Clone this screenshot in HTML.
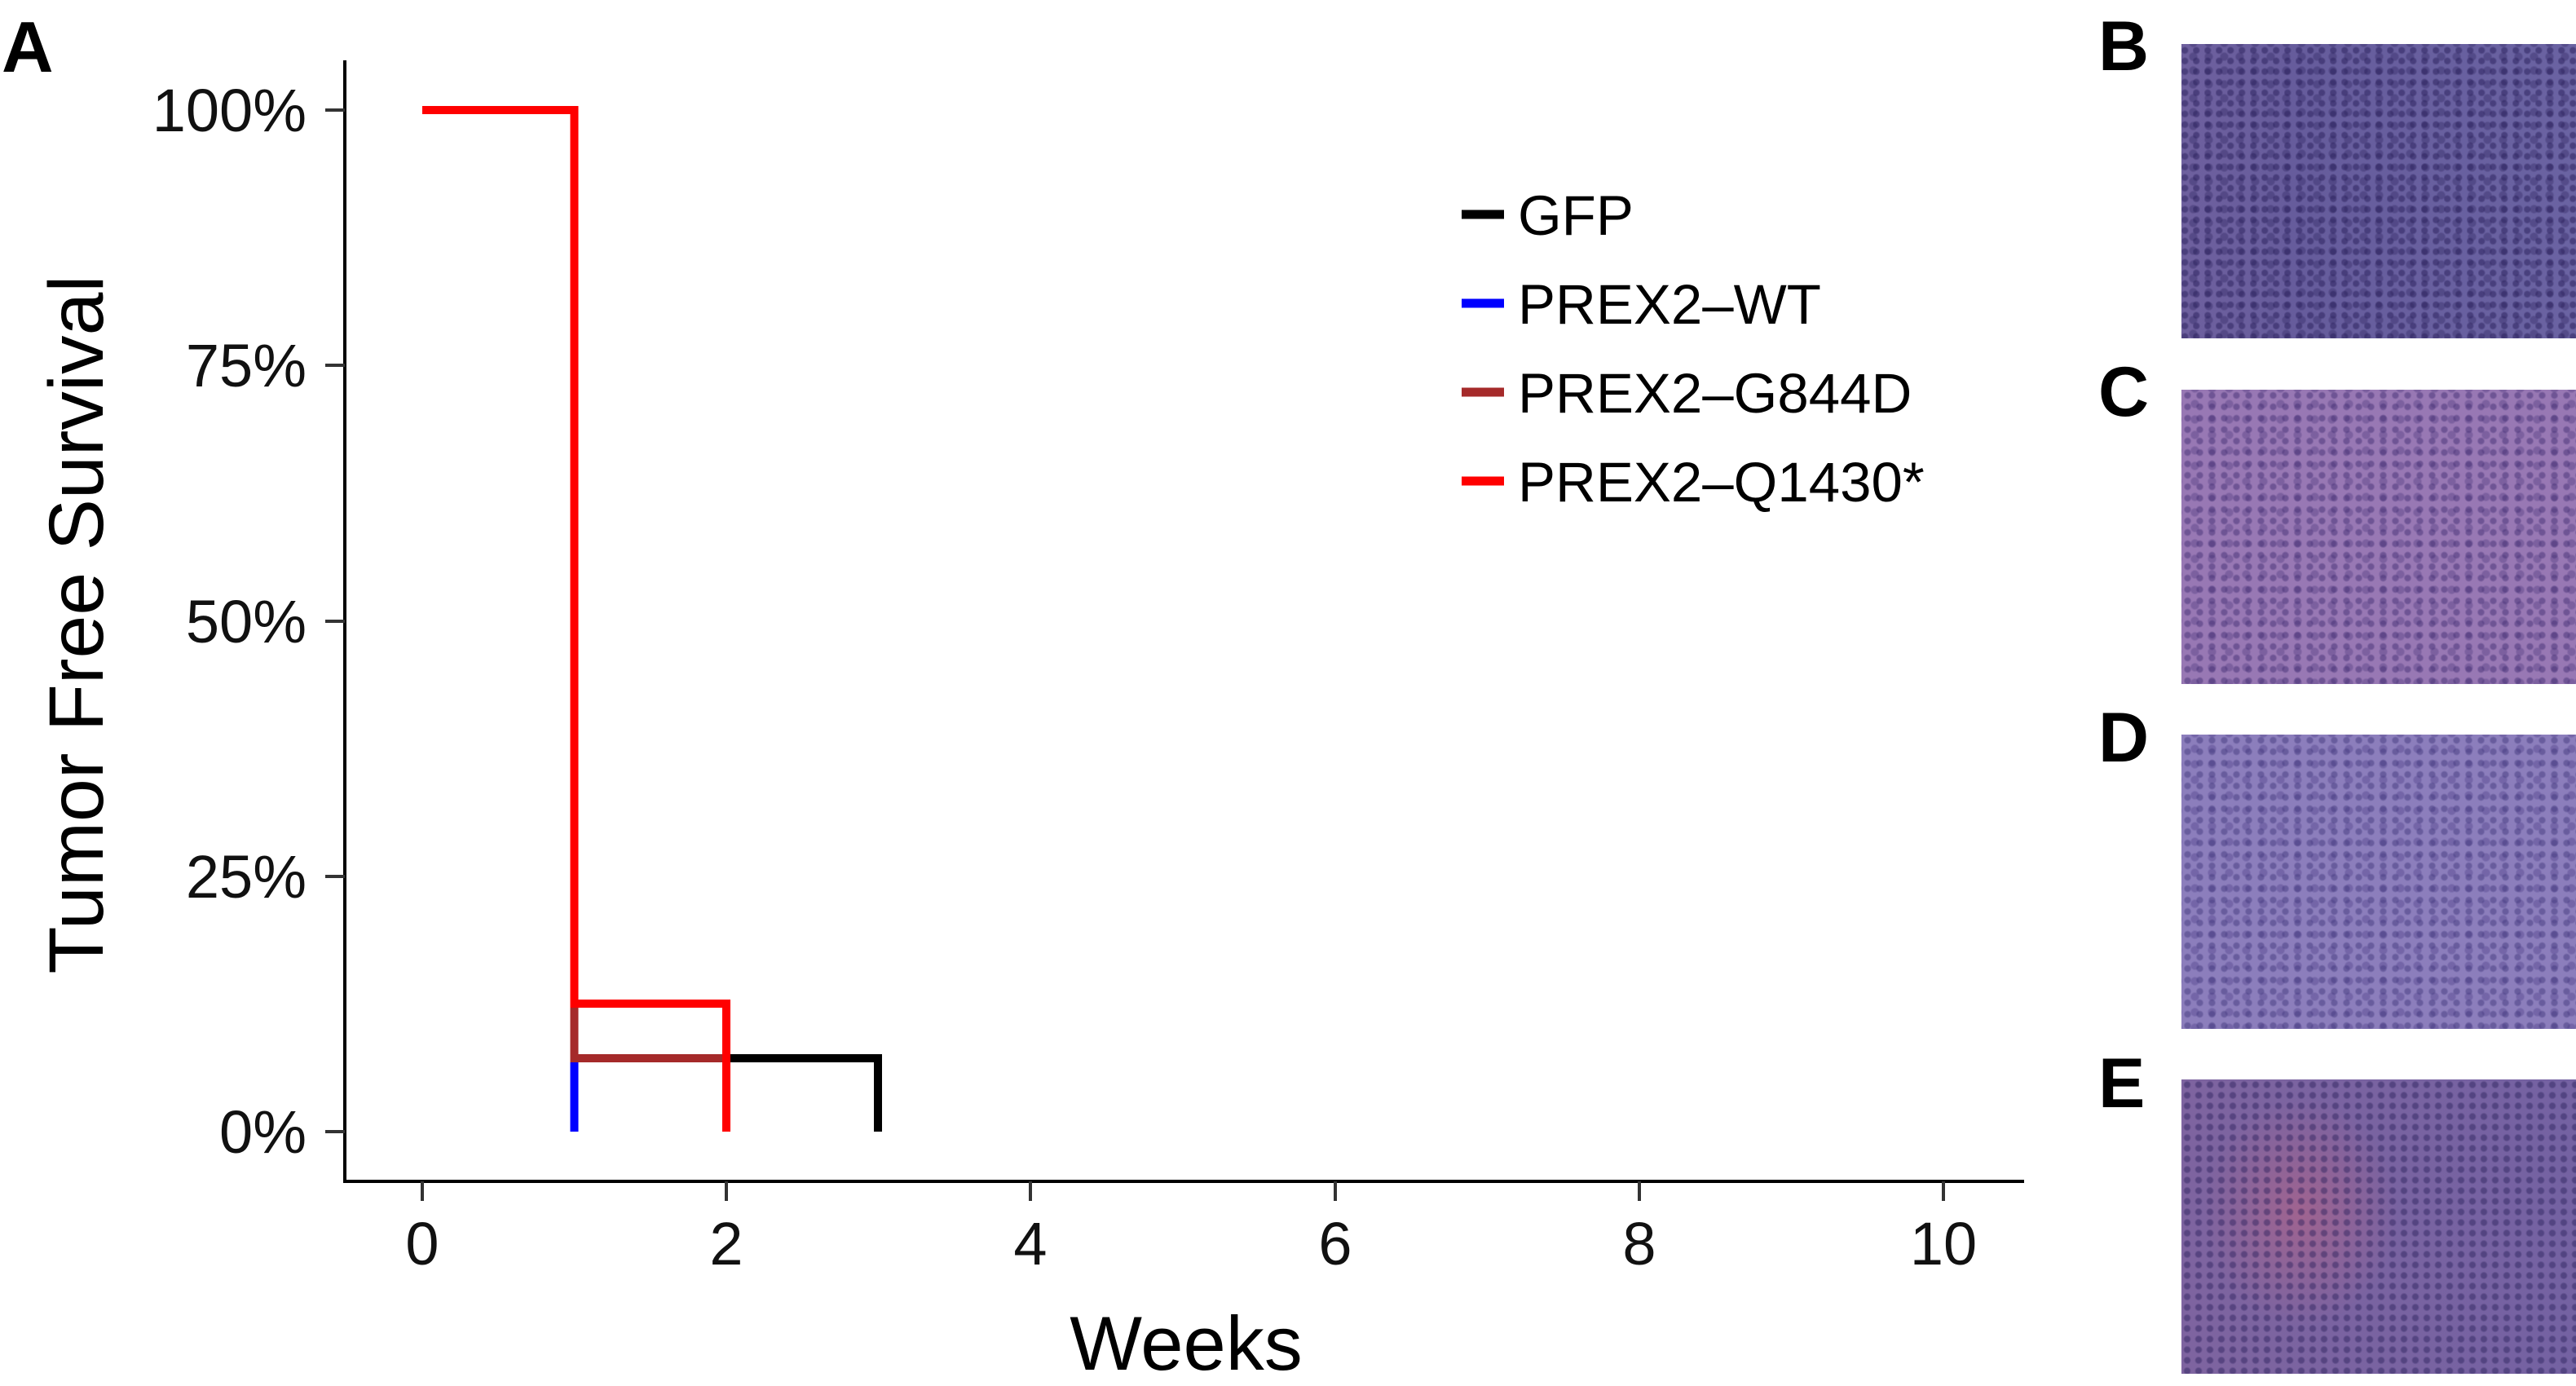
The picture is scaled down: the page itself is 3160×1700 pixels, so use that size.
<!DOCTYPE html>
<html><head><meta charset="utf-8"><style>
html,body{margin:0;padding:0;background:#fff;}
body{width:3160px;height:1700px;position:relative;overflow:hidden;font-family:"Liberation Sans",sans-serif;}
.img{position:absolute;left:2676px;width:484px;height:361px;}
.lbl{position:absolute;font-weight:bold;font-size:86px;line-height:1;}
</style></head><body>
<svg width="3160" height="1700" style="position:absolute;left:0;top:0" font-family="Liberation Sans, sans-serif">
<text x="2" y="88" font-size="88" font-weight="bold">A</text>
<g stroke="#000" stroke-width="4" fill="none">
<line x1="423" y1="74" x2="423" y2="1451"/>
<line x1="421" y1="1449" x2="2483" y2="1449"/>
</g>
<g stroke="#333" stroke-width="4">
<line x1="399" y1="135" x2="423" y2="135"/>
<line x1="399" y1="448" x2="423" y2="448"/>
<line x1="399" y1="762" x2="423" y2="762"/>
<line x1="399" y1="1075" x2="423" y2="1075"/>
<line x1="399" y1="1388" x2="423" y2="1388"/>
<line x1="518" y1="1449" x2="518" y2="1473"/>
<line x1="891" y1="1449" x2="891" y2="1473"/>
<line x1="1264" y1="1449" x2="1264" y2="1473"/>
<line x1="1638" y1="1449" x2="1638" y2="1473"/>
<line x1="2011" y1="1449" x2="2011" y2="1473"/>
<line x1="2384" y1="1449" x2="2384" y2="1473"/>
</g>
<g font-size="74" text-anchor="end" fill="#111">
<text x="376" y="161">100%</text>
<text x="376" y="474">75%</text>
<text x="376" y="788">50%</text>
<text x="376" y="1101">25%</text>
<text x="376" y="1414">0%</text>
</g>
<g font-size="74" text-anchor="middle" fill="#111">
<text x="518" y="1551">0</text>
<text x="891" y="1551">2</text>
<text x="1264" y="1551">4</text>
<text x="1638" y="1551">6</text>
<text x="2011" y="1551">8</text>
<text x="2384" y="1551">10</text>
</g>
<text x="1455" y="1680" font-size="94" text-anchor="middle">Weeks</text>
<text transform="translate(126,766) rotate(-90)" font-size="95" text-anchor="middle">Tumor Free Survival</text>
<g fill="none" stroke-width="10" stroke-linejoin="miter">
<polyline stroke="#000" points="891,1298 1077,1298 1077,1388"/>
<polyline stroke="#0000ff" points="704.5,1298 704.5,1388"/>
<polyline stroke="#a52a2a" points="704.5,1231 704.5,1298 891,1298"/>
<polyline stroke="#ff0000" points="518,135 704.5,135 704.5,1231 891,1231 891,1388"/>
</g>
<g stroke-width="11">
<line x1="1793" y1="263" x2="1845" y2="263" stroke="#000"/>
<line x1="1793" y1="372" x2="1845" y2="372" stroke="#0000ff"/>
<line x1="1793" y1="481" x2="1845" y2="481" stroke="#a52a2a"/>
<line x1="1793" y1="590" x2="1845" y2="590" stroke="#ff0000"/>
</g>
<g font-size="69">
<text x="1862" y="288">GFP</text>
<text x="1862" y="397">PREX2–WT</text>
<text x="1862" y="506">PREX2–G844D</text>
<text x="1862" y="615">PREX2–Q1430*</text>
</g>
</svg>
<div class="lbl" style="left:2574px;top:14px">B</div>
<div class="lbl" style="left:2574px;top:438px">C</div>
<div class="lbl" style="left:2574px;top:862px">D</div>
<div class="lbl" style="left:2574px;top:1286px">E</div>
<div class="img" style="top:54px;background:radial-gradient(circle at 30% 60%,rgba(40,30,90,.5) 3px,transparent 5px) 0 0/14px 13px,radial-gradient(circle,rgba(50,40,100,.4) 4px,transparent 6px) 5px 7px/19px 17px,linear-gradient(90deg,#6e609e,#665c9c 30%,#6a63a2);"></div>
<div class="img" style="top:478px;background:radial-gradient(circle,rgba(60,40,110,.45) 3px,transparent 5px) 0 0/15px 14px,radial-gradient(circle,rgba(70,50,120,.35) 4px,transparent 6px) 6px 8px/21px 19px,#9878b4;"></div>
<div class="img" style="top:901px;background:radial-gradient(circle,rgba(60,50,120,.45) 3px,transparent 5px) 0 0/15px 14px,radial-gradient(circle,rgba(70,55,130,.35) 4px,transparent 6px) 6px 8px/21px 19px,#8c7ebc;"></div>
<div class="img" style="top:1324px;background:radial-gradient(circle,rgba(40,30,90,.45) 3px,transparent 5px) 0 0/14px 13px,radial-gradient(ellipse 120px 140px at 30% 45%,rgba(190,100,130,.55),transparent),linear-gradient(90deg,#7e64a0,#7462a2);"></div>
</body></html>
